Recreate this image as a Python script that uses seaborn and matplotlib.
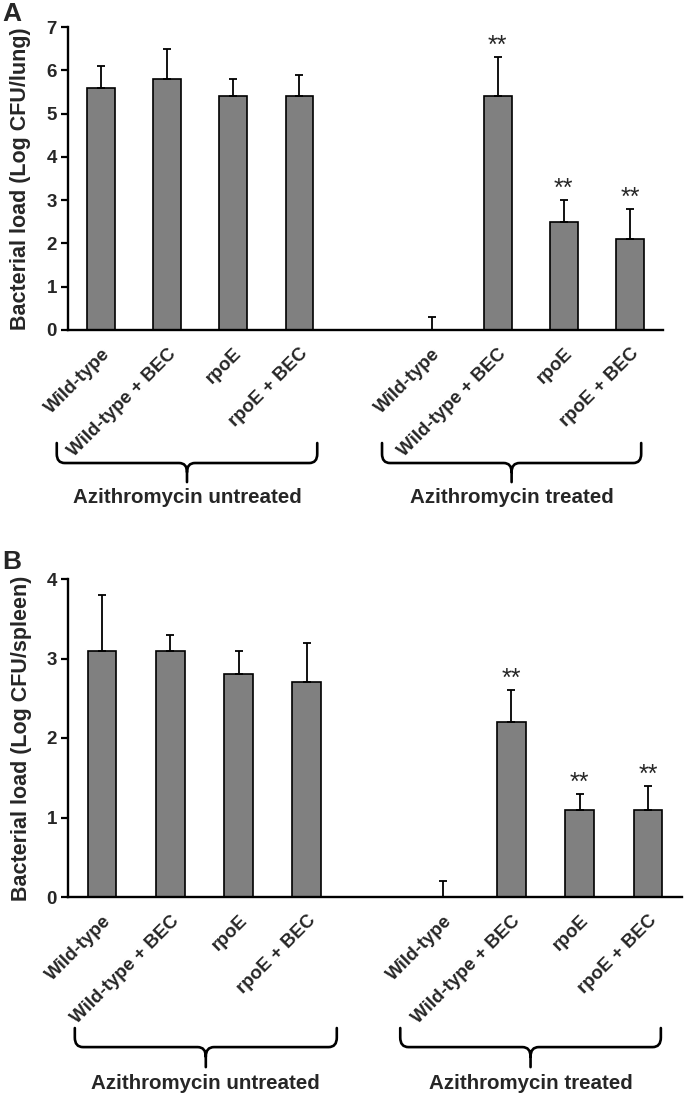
import matplotlib
matplotlib.use("Agg")
import numpy as np
import pandas as pd
import matplotlib.pyplot as plt
import matplotlib.transforms as mtransforms
from matplotlib.path import Path
from matplotlib.patches import PathPatch
import seaborn as sns

# Dados
strains = ["Wild-type", "Wild-type + BEC", "rpoE", "rpoE + BEC"]
groups = ["Azithromycin untreated", "Azithromycin treated"]

lung_untreated = [5.6, 5.8, 5.4, 5.4]
lung_untreated_err = [0.5, 0.7, 0.4, 0.5]
lung_treated = [0.0, 5.4, 2.5, 2.1]
lung_treated_err = [0.3, 0.9, 0.5, 0.7]

spleen_untreated = [3.1, 3.1, 2.8, 2.7]
spleen_untreated_err = [0.7, 0.2, 0.3, 0.5]
spleen_treated = [0.0, 2.2, 1.1, 1.1]
spleen_treated_err = [0.2, 0.4, 0.2, 0.3]

# significância (**) para o grupo tratado
treated_sig = [False, True, True, True]

sns.set_style("white")
plt.rcParams["font.family"] = ["Liberation Sans", "DejaVu Sans"]


def build_df(untreated, untreated_err, treated, treated_err):
    rows = []
    for s, m, e in zip(strains, untreated, untreated_err):
        rows.append({"slot": groups[0] + "|" + s, "label": s, "mean": m, "err": e, "sig": False})
    for s, m, e, g in zip(strains, treated, treated_err, treated_sig):
        rows.append({"slot": groups[1] + "|" + s, "label": s, "mean": m, "err": e, "sig": g})
    return pd.DataFrame(rows)


order = [groups[0] + "|" + s for s in strains] + ["gap"] + [groups[1] + "|" + s for s in strains]


def draw_brace(ax, x0, x1, y_arm, y_bar, y_tip, text, y_text):
    trans = mtransforms.blended_transform_factory(ax.transData, ax.transAxes)
    xc = (x0 + x1) / 2
    rx, ry = 0.12, 0.03
    verts = [
        (x0, y_arm), (x0, y_bar + ry), (x0, y_bar), (x0 + rx, y_bar),
        (xc - rx, y_bar), (xc, y_bar), (xc, y_bar - ry), (xc, y_tip),
        (x1, y_arm), (x1, y_bar + ry), (x1, y_bar), (x1 - rx, y_bar),
        (xc + rx, y_bar), (xc, y_bar), (xc, y_bar - ry),
    ]
    codes = [
        Path.MOVETO, Path.LINETO, Path.CURVE3, Path.CURVE3,
        Path.LINETO, Path.CURVE3, Path.CURVE3, Path.LINETO,
        Path.MOVETO, Path.LINETO, Path.CURVE3, Path.CURVE3,
        Path.LINETO, Path.CURVE3, Path.CURVE3,
    ]
    patch = PathPatch(Path(verts, codes), transform=trans, fill=False,
                      edgecolor="black", linewidth=1.9, clip_on=False,
                      capstyle="round", joinstyle="round")
    ax.add_patch(patch)
    ax.text(xc, y_text, text, transform=trans, ha="center", va="top",
            fontsize=14.8, fontweight="bold")


def draw_panel(ax, df, ymax, ylabel, braces, label_x):
    sns.barplot(data=df, x="slot", y="mean", order=order, color="#808080",
                edgecolor="black", linewidth=1.2, width=0.42, errorbar=None,
                saturation=1, ax=ax)
    xpos = [order.index(s) for s in df["slot"]]
    ax.errorbar(xpos, df["mean"], yerr=[np.zeros(len(df)), df["err"]],
                fmt="none", ecolor="black", elinewidth=1.3, capsize=3,
                capthick=1.3, zorder=1)
    for x, m, e, sig in zip(xpos, df["mean"], df["err"], df["sig"]):
        if sig:
            ax.annotate("**", xy=(x, m + e), xytext=(0, 3), textcoords="offset points",
                        ha="center", va="baseline", fontsize=18)

    ax.set_xlim(-0.5, len(order) - 0.5)
    ax.set_ylim(0, ymax)
    ax.set_yticks(range(0, ymax + 1))
    ax.set_yticklabels([str(v) for v in range(0, ymax + 1)], fontsize=13.5, fontweight="bold")

    # rótulos no centro, marcas nas divisões (estilo Excel)
    ax.set_xticks(range(len(order)))
    ax.set_xticklabels([df.set_index("slot")["label"].get(s, "") for s in order],
                       rotation=45, ha="right", rotation_mode="anchor",
                       fontsize=13.5, fontweight="bold")
    ax.set_xticks(np.arange(-0.5, len(order)), minor=True)
    ax.tick_params(axis="x", which="major", length=0, pad=11)
    ax.tick_params(axis="x", which="minor", length=5, width=1.6, direction="out", color="black")
    ax.tick_params(axis="y", which="major", length=5, width=1.6, direction="out",
                   color="black", left=True, pad=3)

    ax.set_xlabel("")
    ax.set_ylabel(ylabel, fontsize=15.5, fontweight="bold")
    ax.yaxis.set_label_coords(label_x, 0.5)
    sns.despine(ax=ax)
    for sp in ["left", "bottom"]:
        ax.spines[sp].set_linewidth(1.7)
        ax.spines[sp].set_color("black")

    for (x0, x1), g in zip(braces["spans"], groups):
        draw_brace(ax, x0, x1, braces["arm"], braces["bar"], braces["tip"], g, braces["text"])


fig = plt.figure(figsize=(6.86, 11), dpi=100)
ax_a = fig.add_axes([68 / 686, 1 - 330 / 1100, (663 - 68) / 686, 303 / 1100])
ax_b = fig.add_axes([68 / 686, 1 - 897 / 1100, (682 - 68) / 686, 318 / 1100])

df_lung = build_df(lung_untreated, lung_untreated_err, lung_treated, lung_treated_err)
df_spleen = build_df(spleen_untreated, spleen_untreated_err, spleen_treated, spleen_treated_err)

draw_panel(ax_a, df_lung, 7, "Bacterial load (Log CFU/lung)",
           {"spans": [(-0.67, 3.27), (4.25, 8.17)], "arm": -0.373, "bar": -0.439,
            "tip": -0.502, "text": -0.522}, -0.062)
draw_panel(ax_b, df_spleen, 4, "Bacterial load (Log CFU/spleen)",
           {"spans": [(-0.40, 3.44), (4.37, 8.19)], "arm": -0.412, "bar": -0.472,
            "tip": -0.535, "text": -0.557}, -0.058)

fig.text(2 / 686, 1 - 2 / 1100, "A", fontsize=19, fontweight="bold", va="top", ha="left")
fig.text(2 / 686, 1 - 550 / 1100, "B", fontsize=19, fontweight="bold", va="top", ha="left")

fig.savefig("out.png", dpi=100)
